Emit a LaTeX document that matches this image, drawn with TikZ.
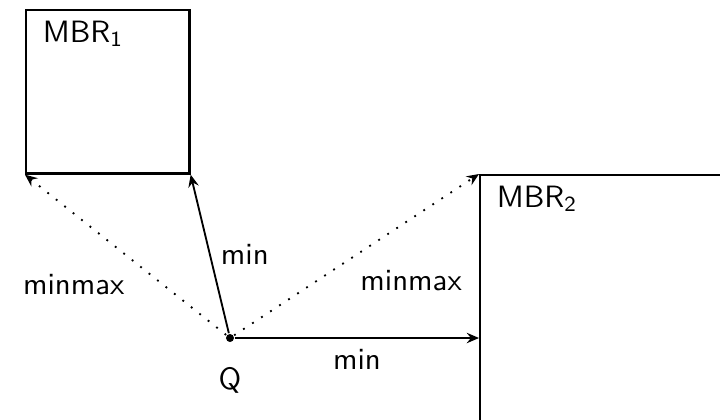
\documentclass[tikz,border=0pt]{standalone}
\usetikzlibrary{arrows.meta}
\renewcommand{\familydefault}{\sfdefault}
\begin{document}
\begin{tikzpicture}[x=0.0114cm, y=-0.0114cm, semithick,
    >={Stealth[length=4pt, width=3.4pt, inset=1.4pt]},
    box/.style={rectangle, draw, thick, anchor=north west, inner sep=0pt},
    boxname/.style={anchor=north west, inner sep=0pt},
    dots/.style={dash pattern=on 0.6pt off 2.9pt},
    dot/.style={circle, fill, inner sep=0pt, minimum size=2.6pt}]
    \useasboundingbox (0,0) rectangle (720,419);
    \clip (0,0) rectangle (720,419);
    \node[box, minimum width=1.86cm, minimum height=1.86cm] (mbr1) at (25,9) {};
    \node[box, minimum width=3cm, minimum height=3cm] (mbr2) at (479,174) {};
    \node[boxname] (name1) at ([xshift=17*0.0114cm, yshift=-11*0.0114cm]mbr1.north west) {MBR\textsubscript{1}};
    \node[boxname] (name2) at ([xshift=17*0.0114cm, yshift=-11*0.0114cm]mbr2.north west) {MBR\textsubscript{2}};
    \node[dot, label={[label distance=1.5mm]below:Q}] (Q) at (230,338) {};
    \draw[->] (Q) -- node[right] {min} (mbr1.south east);
    \draw[->, dots] (Q) -- node[pos=.45, below left] {minmax} (mbr1.south west);
    \draw[->, dots] (Q) -- node[pos=.47, below right] {minmax} (mbr2.north west);
    \draw[->] (Q) -- node[below] {min} (Q -| mbr2.west);
\end{tikzpicture}
\end{document}
